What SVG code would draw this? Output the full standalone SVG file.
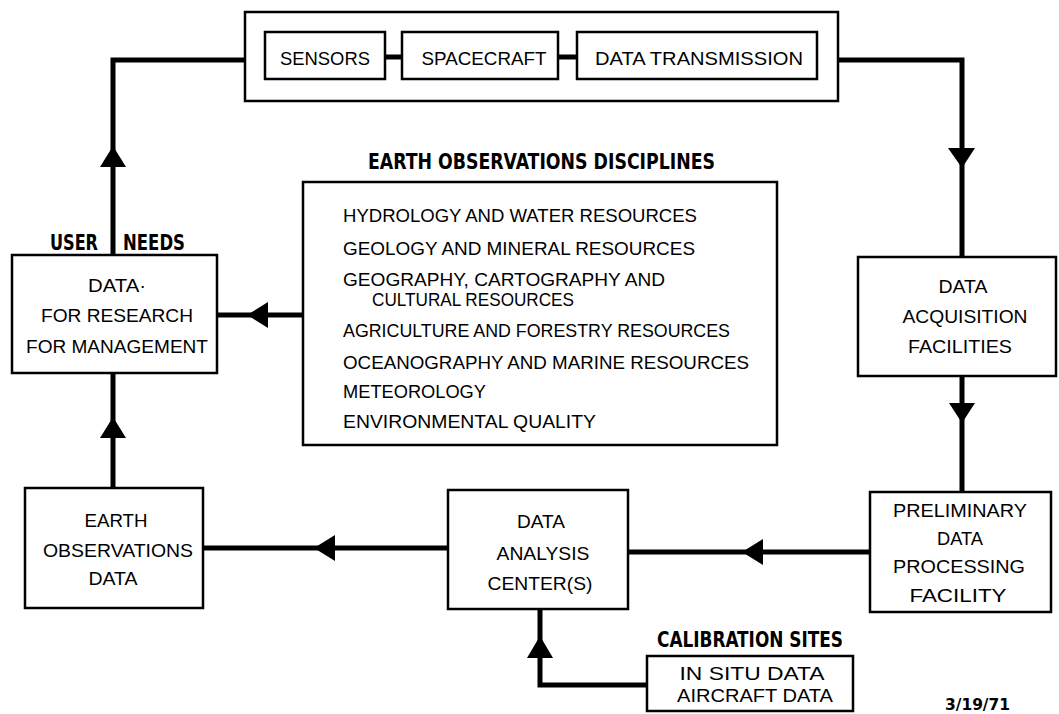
<svg xmlns="http://www.w3.org/2000/svg" width="1059" height="714" viewBox="0 0 1059 714">
<style>
.box{fill:#fff;stroke:#000;stroke-width:2.5}
.frame{fill:none;stroke:#000;stroke-width:2.5}
.con{fill:none;stroke:#000;stroke-width:5}
.t{font-family:"Liberation Sans",Arial,sans-serif;font-size:18px;fill:#000;text-anchor:middle}
.l{font-family:"Liberation Sans",Arial,sans-serif;font-size:18px;fill:#000}
.h{font-family:"DejaVu Sans Condensed","Liberation Sans",sans-serif;font-weight:bold;font-size:22px;fill:#000}
.ah{fill:#000}
</style>
<rect width="1059" height="714" fill="#fff"/>
<g id="connectors">
<path class="con" d="M245 60 H113 V255"/>
<path class="con" d="M838 60 H962 V257"/>
<path class="con" d="M962 376 V492"/>
<path class="con" d="M870 552 H628"/>
<path class="con" d="M448 548 H203"/>
<path class="con" d="M113 373 V488"/>
<path class="con" d="M303 315 H217"/>
<path class="con" d="M647 685 H540 V609"/>
<path class="con" d="M385 57 H402 M558 57 H577"/>
<polygon class="ah" points="113,146 100,167 126,167"/>
<polygon class="ah" points="962,168 948,148 975,148"/>
<polygon class="ah" points="962,423 949,403 975,403"/>
<polygon class="ah" points="247,315 268,302 268,328"/>
<polygon class="ah" points="742,552 763,539 763,565"/>
<polygon class="ah" points="314,548 335,535 335,561"/>
<polygon class="ah" points="113,417 100,438 126,438"/>
<polygon class="ah" points="540,636 527,658 553,658"/>
</g>
<g id="satellite">
<rect class="frame" x="245" y="12" width="593" height="89"/>
</g>
<g id="sensors">
<rect class="box" x="265" y="32" width="120" height="47"/>
<text class="t" x="325" y="65" textLength="90" lengthAdjust="spacingAndGlyphs">SENSORS</text>
</g>
<g id="spacecraft">
<rect class="box" x="402" y="32" width="156" height="47"/>
<text class="t" x="484" y="65" textLength="125" lengthAdjust="spacingAndGlyphs">SPACECRAFT</text>
</g>
<g id="transmission">
<rect class="box" x="577" y="32" width="240" height="47"/>
<text class="t" x="699" y="65" textLength="208" lengthAdjust="spacingAndGlyphs">DATA TRANSMISSION</text>
</g>
<g id="user-needs">
<text class="h" x="50" y="250" textLength="48" lengthAdjust="spacingAndGlyphs">USER</text>
<text class="h" x="123" y="250" textLength="62" lengthAdjust="spacingAndGlyphs">NEEDS</text>
<rect class="box" x="12" y="255" width="205" height="118"/>
<text class="t" x="117" y="292" textLength="58" lengthAdjust="spacingAndGlyphs">DATA·</text>
<text class="t" x="117" y="322" textLength="152" lengthAdjust="spacingAndGlyphs">FOR RESEARCH</text>
<text class="t" x="117" y="353" textLength="182" lengthAdjust="spacingAndGlyphs">FOR MANAGEMENT</text>
</g>
<g id="disciplines">
<text class="h" x="368" y="169" textLength="347" lengthAdjust="spacingAndGlyphs">EARTH OBSERVATIONS DISCIPLINES</text>
<rect class="box" x="303" y="182" width="474" height="263"/>
<text class="l" x="343" y="222" textLength="354" lengthAdjust="spacingAndGlyphs">HYDROLOGY AND WATER RESOURCES</text>
<text class="l" x="343" y="255" textLength="352" lengthAdjust="spacingAndGlyphs">GEOLOGY AND MINERAL RESOURCES</text>
<text class="l" x="343" y="286" textLength="322" lengthAdjust="spacingAndGlyphs">GEOGRAPHY, CARTOGRAPHY AND</text>
<text class="l" x="372" y="306" textLength="202" lengthAdjust="spacingAndGlyphs">CULTURAL RESOURCES</text>
<text class="l" x="343" y="337" textLength="387" lengthAdjust="spacingAndGlyphs">AGRICULTURE AND FORESTRY RESOURCES</text>
<text class="l" x="343" y="369" textLength="406" lengthAdjust="spacingAndGlyphs">OCEANOGRAPHY AND MARINE RESOURCES</text>
<text class="l" x="343" y="398" textLength="143" lengthAdjust="spacingAndGlyphs">METEOROLOGY</text>
<text class="l" x="343" y="428" textLength="253" lengthAdjust="spacingAndGlyphs">ENVIRONMENTAL QUALITY</text>
</g>
<g id="acquisition">
<rect class="box" x="858" y="257" width="198" height="119"/>
<text class="t" x="963" y="293" textLength="49" lengthAdjust="spacingAndGlyphs">DATA</text>
<text class="t" x="965" y="323" textLength="125" lengthAdjust="spacingAndGlyphs">ACQUISITION</text>
<text class="t" x="960" y="353" textLength="104" lengthAdjust="spacingAndGlyphs">FACILITIES</text>
</g>
<g id="preliminary">
<rect class="box" x="870" y="492" width="181" height="120"/>
<text class="t" x="960" y="517" textLength="134" lengthAdjust="spacingAndGlyphs">PRELIMINARY</text>
<text class="t" x="960" y="545" textLength="46" lengthAdjust="spacingAndGlyphs">DATA</text>
<text class="t" x="959" y="573" textLength="132" lengthAdjust="spacingAndGlyphs">PROCESSING</text>
<text class="t" x="958" y="602" textLength="97" lengthAdjust="spacingAndGlyphs">FACILITY</text>
</g>
<g id="analysis">
<rect class="box" x="448" y="490" width="180" height="119"/>
<text class="t" x="541" y="528" textLength="48" lengthAdjust="spacingAndGlyphs">DATA</text>
<text class="t" x="543" y="560" textLength="93" lengthAdjust="spacingAndGlyphs">ANALYSIS</text>
<text class="t" x="540" y="590" textLength="105" lengthAdjust="spacingAndGlyphs">CENTER(S)</text>
</g>
<g id="eo-data">
<rect class="box" x="25" y="488" width="178" height="120"/>
<text class="t" x="116" y="527" textLength="63" lengthAdjust="spacingAndGlyphs">EARTH</text>
<text class="t" x="118" y="557" textLength="150" lengthAdjust="spacingAndGlyphs">OBSERVATIONS</text>
<text class="t" x="113" y="585" textLength="49" lengthAdjust="spacingAndGlyphs">DATA</text>
</g>
<g id="calibration">
<text class="h" x="657" y="647" textLength="186" lengthAdjust="spacingAndGlyphs">CALIBRATION SITES</text>
<rect class="box" x="647" y="656" width="206" height="55"/>
<text class="t" x="752" y="680" textLength="145" lengthAdjust="spacingAndGlyphs">IN SITU DATA</text>
<text class="t" x="755" y="702" textLength="156" lengthAdjust="spacingAndGlyphs">AIRCRAFT DATA</text>
</g>
<text class="h" x="945" y="710" textLength="65" lengthAdjust="spacingAndGlyphs" style="font-size:16px">3/19/71</text>
</svg>
